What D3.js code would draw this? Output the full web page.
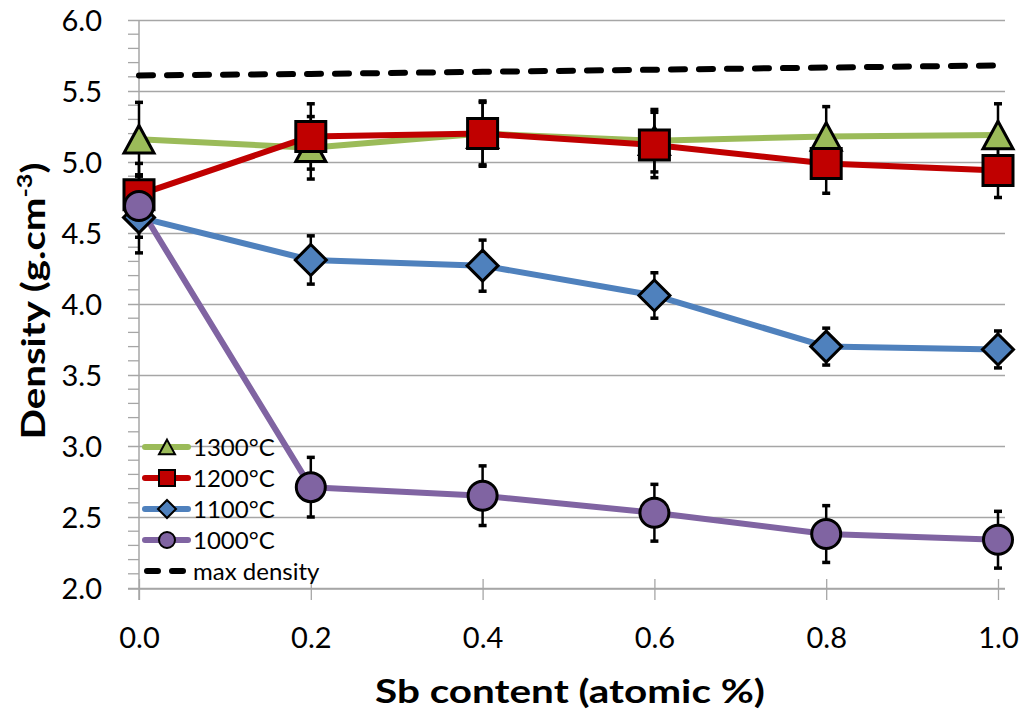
<!DOCTYPE html>
<html>
<head>
<meta charset="utf-8">
<script src="https://cdn.jsdelivr.net/npm/d3@7"></script>
<style>
  body { margin: 0; background: #fff; }
  text { font-family: Lato, "Open Sans", sans-serif; fill: #000; }
</style>
</head>
<body>
<svg id="chart" width="1024" height="714"></svg>
<script>
// values
const sbContent = [0.0, 0.2, 0.4, 0.6, 0.8, 1.0];
const xTicks = [0.0, 0.2, 0.4, 0.6, 0.8, 1.0];
const yTicks = [2.0, 2.5, 3.0, 3.5, 4.0, 4.5, 5.0, 5.5, 6.0];

const density1300 = [5.16, 5.10, 5.20, 5.15, 5.18, 5.19];
const error1300   = [0.26, 0.22, 0.22, 0.22, 0.21, 0.22];
const density1200 = [4.77, 5.18, 5.20, 5.12, 4.99, 4.94];
const error1200   = [0.22, 0.23, 0.23, 0.23, 0.21, 0.19];
const density1100 = [4.61, 4.31, 4.27, 4.06, 3.70, 3.68];
const error1100   = [0.25, 0.17, 0.18, 0.16, 0.13, 0.13];
const density1000 = [4.69, 2.71, 2.65, 2.53, 2.38, 2.34];
const error1000   = [0.22, 0.21, 0.21, 0.20, 0.20, 0.20];
const maxDensity  = [5.61, 5.62, 5.635, 5.65, 5.665, 5.68];

const seriesNames = ["1300°C", "1200°C", "1100°C", "1000°C"];
const seriesColors = ["#9BBB59", "#C00000", "#4F81BD", "#8064A2"];
const seriesShapes = ["triangle", "square", "diamond", "circle"];
const seriesValues = [density1300, density1200, density1100, density1000];
const seriesErrors = [error1300, error1200, error1100, error1000];

const svg = d3.select("#chart");

const x = d3.scaleLinear().domain([0, 1]).range([139, 998]);
const y = d3.scaleLinear().domain([2, 6]).range([588, 20]);

// custom marker shapes, size = width in px
const shapes = {
  triangle: { draw(ctx, s) { const h = s * 0.92; ctx.moveTo(0, -h / 2); ctx.lineTo(s / 2, h / 2); ctx.lineTo(-s / 2, h / 2); ctx.closePath(); } },
  square:   { draw(ctx, s) { ctx.rect(-s / 2, -s / 2, s, s); } },
  diamond:  { draw(ctx, s) { ctx.moveTo(0, -s / 2); ctx.lineTo(s / 2, 0); ctx.lineTo(0, s / 2); ctx.lineTo(-s / 2, 0); ctx.closePath(); } },
  circle:   { draw(ctx, s) { ctx.moveTo(s / 2, 0); ctx.arc(0, 0, s / 2, 0, 2 * Math.PI); } }
};
const markerSize = { triangle: 30, square: 30, diamond: 31, circle: 29 };

// gridlines + y axis
const yAxis = d3.axisLeft(y)
  .tickValues(yTicks)
  .tickSize(-(1005 - 139))
  .tickFormat(d3.format(".1f"));

const gy = svg.append("g").attr("transform", "translate(139,0)").call(yAxis);
gy.select(".domain").remove();
gy.selectAll(".tick line").attr("stroke", "#a6a6a6").attr("stroke-width", 1.3).attr("x1", -11);
gy.selectAll(".tick text")
  .attr("x", -37)
  .attr("dy", "0.36em")
  .style("font-size", "29px")
  .style("font-family", "Lato, sans-serif");

// minor ticks on y
const minor = d3.range(2.1, 6.0, 0.1).filter(v => Math.abs(v * 2 - Math.round(v * 2)) > 0.01);
svg.append("g").selectAll("line").data(minor).join("line")
  .attr("x1", 128).attr("x2", 139)
  .attr("y1", d => y(d)).attr("y2", d => y(d))
  .attr("stroke", "#a6a6a6").attr("stroke-width", 1.3);

svg.append("line")
  .attr("x1", 139).attr("x2", 139).attr("y1", y(6)).attr("y2", 600)
  .attr("stroke", "#a6a6a6").attr("stroke-width", 1.5);

// x axis
const xAxis = d3.axisBottom(x).tickValues(xTicks).tickSize(11).tickFormat(d3.format(".1f"));
const gx = svg.append("g").attr("transform", "translate(0,589)").call(xAxis);
gx.select(".domain").attr("stroke", "#a6a6a6").attr("stroke-width", 1.5).attr("d", "M128,0H1005");
gx.selectAll(".tick line").attr("stroke", "#a6a6a6").attr("stroke-width", 1.3).attr("y1", -10);
gx.selectAll(".tick text")
  .attr("y", 59)
  .attr("dy", 0)
  .style("font-size", "29px")
  .style("font-family", "Lato, sans-serif");

// axis titles, stretched along the text to the reference widths
const yTitle = svg.append("text")
  .attr("text-anchor", "middle")
  .style("font-size", "32px")
  .style("font-weight", "bold");
yTitle.append("tspan").text("Density (g.cm");
yTitle.append("tspan").attr("dy", -13).style("font-size", "20px").text("-3");
yTitle.append("tspan").attr("dy", 13).text(")");
const yW = yTitle.node().getBBox().width;
yTitle.attr("transform", `translate(45,301) rotate(-90) scale(${277 / yW},1)`);

const xTitle = svg.append("text")
  .attr("text-anchor", "middle")
  .style("font-size", "32px")
  .style("font-weight", "bold")
  .text("Sb content (atomic %)");
const xW = xTitle.node().getBBox().width;
xTitle.attr("transform", `translate(570,703) scale(${390 / xW},1)`);

// max density dashed line
const line = d3.line().x((d, i) => x(sbContent[i])).y(d => y(d));

svg.append("path")
  .attr("d", line(maxDensity))
  .attr("fill", "none")
  .attr("stroke", "#000")
  .attr("stroke-width", 6)
  .attr("stroke-linecap", "round")
  .attr("stroke-dasharray", "14 14");

// series lines
svg.append("g").selectAll("path").data(seriesValues).join("path")
  .attr("d", d => line(d))
  .attr("fill", "none")
  .attr("stroke", (d, i) => seriesColors[i])
  .attr("stroke-width", 6)
  .attr("stroke-linejoin", "round");

// error bars
const errG = svg.append("g");
seriesValues.forEach(function(vals, s) {
  const pts = vals.map((v, i) => ({ x: sbContent[i], v: v, e: seriesErrors[s][i] }));
  const g = errG.append("g");
  g.selectAll("line.bar").data(pts).join("line")
    .attr("class", "bar")
    .attr("x1", d => x(d.x)).attr("x2", d => x(d.x))
    .attr("y1", d => y(d.v + d.e)).attr("y2", d => y(d.v - d.e))
    .attr("stroke", "#000").attr("stroke-width", 2.5);
  g.selectAll("line.capT").data(pts).join("line")
    .attr("class", "capT")
    .attr("x1", d => x(d.x) - 4).attr("x2", d => x(d.x) + 4)
    .attr("y1", d => y(d.v + d.e)).attr("y2", d => y(d.v + d.e))
    .attr("stroke", "#000").attr("stroke-width", 3.5);
  g.selectAll("line.capB").data(pts).join("line")
    .attr("class", "capB")
    .attr("x1", d => x(d.x) - 4).attr("x2", d => x(d.x) + 4)
    .attr("y1", d => y(d.v - d.e)).attr("y2", d => y(d.v - d.e))
    .attr("stroke", "#000").attr("stroke-width", 3.5);
});

// markers
seriesValues.forEach(function(vals, s) {
  const shp = seriesShapes[s];
  svg.append("g").selectAll("path").data(vals).join("path")
    .attr("transform", (d, i) => `translate(${x(sbContent[i])},${y(d)})`)
    .attr("d", d3.symbol().type(shapes[shp]).size(markerSize[shp]))
    .attr("fill", seriesColors[s])
    .attr("stroke", "#000")
    .attr("stroke-width", 3)
    .attr("stroke-linejoin", "miter");
});

// legend
const legend = svg.append("g");
const legendRows = seriesNames.concat(["max density"]);
const rowY = i => 447 + i * 31;
legendRows.forEach(function(name, i) {
  const g = legend.append("g").attr("transform", `translate(0,${rowY(i)})`);
  if (i < 4) {
    g.append("line").attr("x1", 145).attr("x2", 188).attr("y1", 0).attr("y2", 0)
      .attr("stroke", seriesColors[i]).attr("stroke-width", 6).attr("stroke-linecap", "round");
    const shp = seriesShapes[i];
    g.append("path")
      .attr("transform", "translate(167,0)")
      .attr("d", d3.symbol().type(shapes[shp]).size(shp === "diamond" ? 18 : 16))
      .attr("fill", seriesColors[i]).attr("stroke", "#000").attr("stroke-width", 2);
  } else {
    g.append("line").attr("x1", 147).attr("x2", 186).attr("y1", 0).attr("y2", 0)
      .attr("stroke", "#000").attr("stroke-width", 6).attr("stroke-linecap", "round")
      .attr("stroke-dasharray", "11 14");
  }
  g.append("text").attr("x", 193).attr("y", 0).attr("dy", "0.36em")
    .style("font-size", "24px").text(name);
});
</script>
</body>
</html>
